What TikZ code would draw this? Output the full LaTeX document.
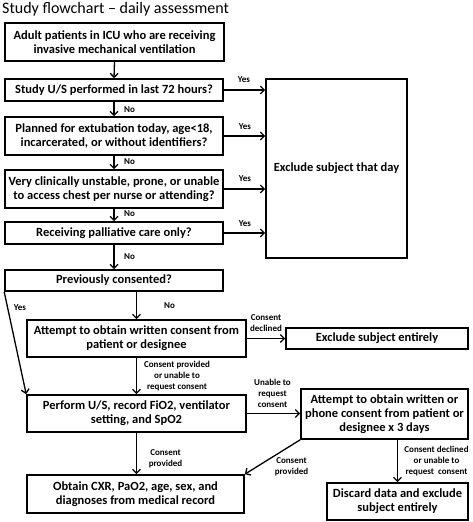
\documentclass[tikz,border=0pt]{standalone}
\usepackage{fontspec}
\setmainfont{Carlito}
\usetikzlibrary{arrows.meta}
\begin{document}
\begin{tikzpicture}[x=1pt,y=-1pt,
  box/.style={draw, line width=1.6pt, font=\bfseries\fontsize{12.5}{14}\selectfont, align=center, inner sep=0pt},
  arr/.style={line width=1.3pt, -{Straight Barb[length=4pt,width=8pt,line width=1.3pt]}},
  lab/.style={font=\bfseries\fontsize{9}{11}\selectfont, align=center, inner sep=0pt}]
\useasboundingbox (0,0) rectangle (472,522);
\node[anchor=base west, inner sep=0pt, font=\fontsize{16}{18}\selectfont] (title) at (2,13.5) {Study flowchart -- daily assessment};
\node[box, minimum width=219pt, minimum height=38pt] (A) at (114.5,42) {Adult patients in ICU who are receiving\\invasive mechanical ventilation};
\node[box, minimum width=218pt, minimum height=22pt] (B) at (114,90) {Study U/S performed in last 72 hours?};
\node[box, minimum width=218pt, minimum height=38pt] (C) at (114,136) {Planned for extubation today, age<18,\\incarcerated, or without identifiers?};
\node[box, minimum width=218pt, minimum height=38pt] (D) at (114,189) {Very clinically unstable, prone, or unable\\to access chest per nurse or attending?};
\node[box, minimum width=218pt, minimum height=22pt] (E) at (114,233) {Receiving palliative care only?};
\node[box, minimum width=218pt, minimum height=21pt] (F) at (114,280.5) {Previously consented?};
\node[box, minimum width=141pt, minimum height=179pt] (X) at (336.5,168.5) {Exclude subject that day};
\node[box, minimum width=219pt, minimum height=37pt] (G) at (136.5,338.5) {Attempt to obtain written consent from\\patient or designee};
\node[box, minimum width=182pt, minimum height=21pt] (Y) at (377,338.5) {Exclude subject entirely};
\node[box, minimum width=219pt, minimum height=37pt] (H) at (136.5,413.5) {Perform U/S, record FiO2, ventilator\\setting, and SpO2};
\node[box, minimum width=167pt, minimum height=50pt] (I) at (384.5,414) {Attempt to obtain written or\\phone consent from patient or\\designee x 3 days};
\node[box, minimum width=217pt, minimum height=38pt] (J) at (135.5,494) {Obtain CXR, PaO2, age, sex, and\\diagnoses from medical record};
\node[box, minimum width=141pt, minimum height=37pt] (K) at (397.5,501.5) {Discard data and exclude\\subject entirely};
% vertical chain
\draw[arr] (A.south) -- (B.north);
\draw[arr] (B.south) -- (C.north);
\draw[arr] (C.south) -- (D.north);
\draw[arr] (D.south) -- (E.north);
\draw[arr] (E.south) -- (F.north);
\node[lab, anchor=west] (n1) at (124,110) {No};
\node[lab, anchor=west] (n2) at (124,162) {No};
\node[lab, anchor=west] (n3) at (124,214) {No};
\node[lab, anchor=west] (n4) at (124,257) {No};
% yes arrows
\draw[arr] (B.east) -- (B.east -| X.west);
\draw[arr] (C.east) -- (C.east -| X.west);
\draw[arr] (D.east) -- (D.east -| X.west);
\draw[arr] (E.east) -- (E.east -| X.west);
\node[lab] (y1) at (244,80) {Yes};
\node[lab] (y2) at (245,126.5) {Yes};
\node[lab] (y3) at (245,178.5) {Yes};
\node[lab] (y4) at (245,224) {Yes};
% consent
\draw[arr] (F.south -| G.north) -- (G.north);
\node[lab, anchor=west] (n5) at (164,306) {No};
\draw[arr] (F.south west) -- (H.north west);
\node[lab] (y5) at (20,307.5) {Yes};
\draw[arr] (G.east |- Y.west) -- (Y.west);
\node[lab] (cd) at (266,323.5) {Consent\\declined};
\draw[arr] (G.south) -- (H.north);
\node[lab] (cp1) at (177,376) {Consent provided\\or unable to\\request consent};
\draw[arr] (H.east) -- (H.east -| I.west);
\node[lab] (ur) at (272.5,393) {Unable to\\request\\consent};
\draw[arr] (H.south) -- (H.south |- J.north);
\node[lab] (cp2) at (165.5,458.5) {Consent\\provided};
\draw[arr] (I.south west) -- (J.north east);
\node[lab] (cp3) at (291.5,467) {Consent\\provided};
\draw[arr] (I.south -| K.north) -- (K.north);
\node[lab] (cdu) at (436.5,461.5) {Consent declined\\or unable to\\request~~consent};
\end{tikzpicture}
\end{document}
